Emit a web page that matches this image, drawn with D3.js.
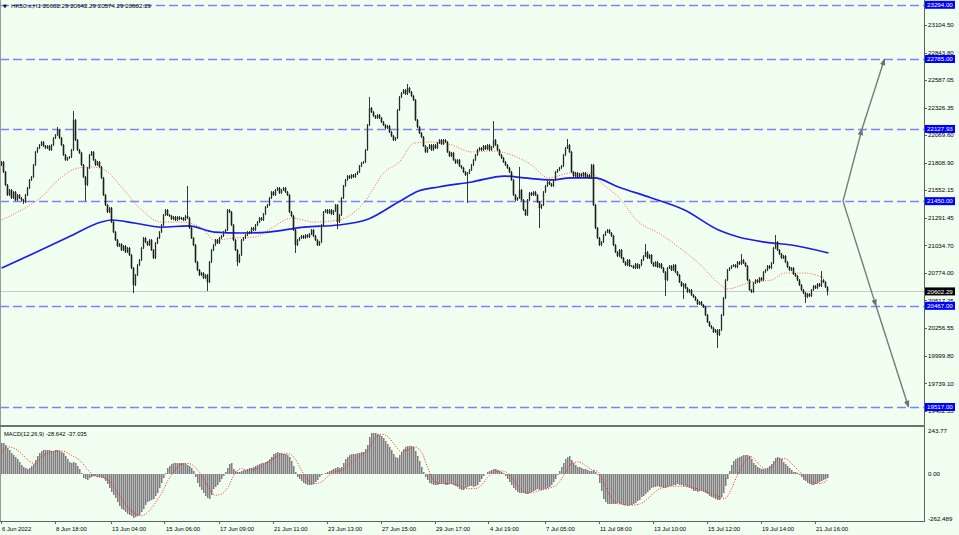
<!DOCTYPE html>
<html><head><meta charset="utf-8">
<script src="https://cdn.jsdelivr.net/npm/d3@7"></script>
<style>
html,body{margin:0;padding:0;background:#F0FFF0;overflow:hidden}
svg text{font-family:"Liberation Sans",Arial,sans-serif;font-size:6.2px;fill:#000}
</style></head><body>
<svg id="c" width="959" height="535"></svg>
<script>
// ---------- DATA ----------
const symbolTitle = "HK50.s,H1  20602.29 20642.29 20574.29 20602.29";
const macdTitle = "MACD(12,26,9) -28.642 -37.035";
const firstOpen = 21790;
const closes = [
21818,21724,21602,21508,21555,21480,21536,21461,21508,21480,
21461,21442,21508,21574,21649,21677,21790,21912,21949,21977,
22005,21968,21949,21968,21931,21977,22043,22071,22118,22043,
21977,21884,21837,21856,21865,21931,22212,22024,21931,21903,
21790,21677,21602,21762,21884,21912,21837,21790,21818,21771,
21668,21508,21414,21348,21386,21254,21160,21085,21029,21047,
20991,21029,20972,21010,20944,20822,20662,20756,20850,20897,
21010,21104,21066,21038,21085,20991,20916,21057,21104,21160,
21226,21320,21367,21320,21311,21282,21301,21273,21301,21282,
21292,21273,21311,21292,21198,21104,21038,20878,20803,20756,
20775,20728,20756,20690,20878,20991,21038,21085,21057,21104,
21123,21160,21179,21367,21348,21226,21085,20991,20878,20944,
21085,21104,21132,21160,21151,21198,21179,21226,21254,21292,
21273,21329,21395,21414,21480,21536,21508,21555,21574,21527,
21555,21574,21536,21508,21348,21311,21179,21038,21085,21104,
21123,21104,21132,21113,21141,21179,21123,21085,21038,21066,
21226,21348,21367,21339,21367,21329,21358,21414,21254,21320,
21480,21593,21649,21686,21668,21696,21677,21705,21724,21780,
21809,21818,21931,22165,22325,22287,22250,22231,22259,22231,
22193,22165,22137,22156,22099,22062,22024,22043,22306,22428,
22466,22494,22456,22513,22475,22438,22400,22212,22146,22090,
22052,21968,21912,21949,21977,21931,21977,21949,21996,22024,
21987,22024,22005,21912,21874,21903,21837,21809,21837,21780,
21762,21724,21696,21715,21743,21790,21837,21884,21931,21949,
21931,21968,21940,21977,21931,21959,22024,21977,21931,21884,
21856,21818,21790,21762,21724,21649,21508,21461,21480,21555,
21461,21367,21320,21461,21527,21508,21536,21508,21442,21386,
21414,21536,21593,21630,21611,21593,21649,21724,21743,21762,
21780,21884,21949,21977,21912,21724,21686,21715,21677,21705,
21686,21715,21677,21696,21668,21790,21414,21198,21104,21038,
21066,21132,21160,21179,21151,21123,21038,20972,20935,20991,
20916,20878,20850,20897,20841,20841,20822,20860,20822,20850,
20897,20935,20972,20916,20944,20869,20841,20878,20831,20860,
20822,20784,20709,20822,20841,20803,20850,20784,20756,20690,
20653,20672,20634,20597,20616,20569,20550,20522,20484,20503,
20475,20456,20381,20315,20278,20259,20221,20240,20193,20240,
20381,20541,20709,20803,20822,20841,20850,20831,20878,20860,
20897,20869,20841,20709,20616,20597,20681,20709,20690,20728,
20709,20784,20803,20841,20822,20869,21010,21066,20991,20953,
20916,20935,20878,20831,20803,20822,20766,20747,20709,20662,
20616,20587,20550,20578,20559,20616,20653,20634,20672,20653,
20709,20690,20644,20602.29];
const spikeHighs = [[28,22137],[36,22287],[93,21583],[184,22419],[203,22541],[246,22193],[259,21762],[283,22024],[322,21038],[370,20944],[387,21123],[410,20784],[413,20642.29]];
const spikeLows = [[11,21433],[42,21461],[66,20597],[103,20616],[118,20850],[147,20972],[168,21198],[233,21442],[269,21207],[332,20569],[341,20541],[358,20080],[402,20503],[413,20574.29]];

const maBlueBars = [0,16.5,33.5,50,55,66.5,80,93.5,106.5,120,133.5,151.5,168.5,183.5,198.5,208.5,218.5,235,251.5,261.5,275,285,296.5,308.5,325,341.5,358.5,368.5,381.5,395,413.5];
const maBlueVals = [20822,20963,21113,21254,21273,21245,21207,21217,21160,21151,21160,21207,21226,21282,21442,21546,21583,21630,21686,21668,21649,21668,21668,21583,21480,21367,21179,21113,21066,21038,20963];
const maRedBars = [0,10,20,30,38.5,45,51.5,60,70,80,90,100,106.5,116.5,126.5,135,145,156.5,168.5,181.5,191.5,198.5,206.5,215,225,235,245,255,265,273.5,285,295,300,308.5,318.5,328.5,338.5,348.5,358.5,362.5,375,385,391.5,401.5,411.5];
const maRedVals = [21273,21367,21489,21677,21762,21771,21743,21583,21367,21254,21254,21198,21085,21104,21113,21198,21292,21254,21273,21442,21724,21809,21996,22005,21977,21912,21921,21884,21790,21668,21715,21715,21621,21489,21254,21151,21019,20869,20681,20625,20690,20709,20775,20775,20728];

const macdMain = [
175,175,165,150,133,120,108,96,85,66,
52,40,33,29,34,44,56,77,99,116,
129,137,138,137,133,131,131,133,135,132,
127,117,101,84,66,61,66,58,45,28,
5,-24,-34,-36,-25,-18,-15,-17,-20,-22,
-25,-28,-43,-62,-85,-105,-122,-144,-166,-186,
-202,-213,-223,-232,-237,-245,-254,-253,-248,-237,
-222,-205,-183,-162,-157,-151,-145,-130,-110,-81,
-53,-24,5,31,45,54,58,60,62,62,
61,58,55,51,42,30,13,-19,-52,-75,
-95,-112,-127,-139,-145,-125,-91,-77,-64,-47,
-30,-13,10,32,53,63,26,15,10,10,
14,22,23,24,30,34,38,43,49,55,
60,63,68,74,83,95,112,119,123,120,
118,115,111,105,93,72,43,10,-21,-32,
-44,-56,-63,-67,-67,-65,-59,-48,-35,-18,
-7,-1,5,11,16,22,28,34,37,32,
40,63,82,98,107,113,115,115,116,119,
122,125,140,162,208,232,235,233,230,224,
215,204,188,170,153,133,110,96,90,106,
124,141,151,158,159,158,155,130,101,72,
40,6,-19,-40,-55,-63,-67,-67,-66,-61,
-59,-62,-65,-67,-63,-63,-66,-72,-79,-88,
-93,-96,-86,-77,-74,-74,-77,-72,-64,-50,
-30,-13,-3,6,15,22,28,24,18,13,
7,1,-14,-32,-49,-67,-84,-97,-107,-110,
-113,-115,-118,-120,-115,-108,-101,-96,-92,-95,
-95,-92,-90,-86,-77,-66,-51,-29,-6,17,
40,63,82,98,100,78,61,48,38,36,
33,29,26,22,17,16,19,10,-8,-54,
-100,-146,-166,-177,-178,-178,-177,-175,-173,-176,
-178,-182,-184,-185,-184,-180,-174,-168,-161,-150,
-138,-127,-116,-104,-93,-84,-78,-75,-73,-76,
-80,-86,-82,-77,-74,-71,-68,-65,-63,-66,
-68,-71,-74,-78,-84,-91,-99,-103,-106,-102,
-102,-106,-113,-121,-130,-138,-143,-149,-154,-151,
-137,-110,-72,-30,15,50,73,84,91,97,
102,107,109,109,100,85,62,48,37,32,
27,24,26,31,42,57,74,87,95,90,
81,69,57,46,30,19,11,7,3,-6,
-18,-35,-46,-56,-63,-68,-69,-63,-57,-51,
-45,-39,-33,-28.642];
const signalBars = [0,3.3,6.7,10,13.3,16.7,20,25,30,35,40,43.3,46.7,50,53.3,56.7,60,63.3,66.7,70,73.3,76.7,80,83.3,86.7,90,93.3,96.7,100,103.3,106.7,110,113.3,116.7,120,123.3,126.7,133.3,140,143.3,146.7,150,153.3,156.7,160,163.3,166.7,170,173.3,180,183.3,186.7,190,193.3,196.7,200,203.3,206.7,210,213.3,216.7,220,223.3,226.7,230,233.3,236.7,240,243.3,246.7,250,253.3,256.7,260,263.3,266.7,270,273.3,278.3,281.7,285,288.3,291.7,295,298.3,301.7,305,308.3,313.3,318.3,323.3,326.7,331.7,336.7,343.3,350,356.7,361.7,365,368.3,371.7,375,378.3,381.7,385,388.3,391.7,395,398.3,401.7,405,408.3,411.7,413];
const signalVals = [115,154,144,115,77,58,96,125,131,106,67,19,-15,-23,-38,-87,-144,-196,-231,-244,-221,-173,-115,-38,19,54,58,38,-10,-77,-125,-119,-77,0,29,19,23,67,110,115,87,19,-38,-58,-48,-15,10,19,48,106,135,202,227,212,163,125,138,154,125,29,-48,-58,-58,-62,-77,-87,-87,-67,-19,10,15,0,-48,-96,-112,-106,-96,-87,-58,0,58,67,48,23,10,-67,-144,-173,-183,-179,-144,-106,-77,-73,-77,-96,-125,-144,-87,0,67,96,58,29,38,81,87,58,19,-19,-48,-58,-48,-37.035];

const levelPrices = [23294, 22785, 22127.93, 21450, 20467, 19517];
const levelLabels = ["23294.00","22785.00","22127.93","21450.00","20467.00","19517.00"];
const priceTicks = ["23104.50","22843.80","22587.05","22326.35","22069.60","21808.90","21552.15","21291.45","21034.70","20774.00","20517.25","20256.55","19999.80","19739.10","19482.35"];
const macdTicks = ["243.77","0.00","-262.489"];
const dateLabels = ["6 Jun 2022","8 Jun 18:00","13 Jun 04:00","15 Jun 06:00","17 Jun 09:00","21 Jun 11:00","23 Jun 13:00","27 Jun 15:00","29 Jun 17:00","4 Jul 19:00","7 Jul 05:00","11 Jul 08:00","13 Jul 10:00","15 Jul 12:00","19 Jul 14:00","21 Jul 16:00"];
const dateBars = [0,27,55,82,109,136,163,190,217,244,272,299,326,353,380,407];
const lastPrice = 20602.29;
// projection arrows: [fromBar, fromPrice, toBar, toPrice]
const arrowSegs = [[420.75,21450,430.25,22127.93],[430.25,22127.93,441.5,22785],[420.75,21450,437.25,20467],[437.25,20467,453.5,19517]];

// ---------- LAYOUT ----------
const W = 959, H = 535, axisX = 924, mainBottom = 426, macdBottom = 521;
const svg = d3.select("#c");
const x = d3.scaleLinear().domain([0, 413]).range([1.5, 827.5]);
const y = d3.scaleLinear().domain([19517, 22785]).range([407, 59]);
const ym = d3.scaleLinear().domain([-262.489, 243.77]).range([519, 431.3]);

svg.append("rect").attr("width", W).attr("height", H).attr("fill", "#F0FFF0");
const defs = svg.append("defs");
defs.append("clipPath").attr("id", "mainClip").append("rect").attr("x", 0).attr("y", 0).attr("width", axisX).attr("height", mainBottom);
defs.append("clipPath").attr("id", "macdClip").append("rect").attr("x", 0).attr("y", mainBottom + 2).attr("width", axisX).attr("height", macdBottom - mainBottom - 2);
defs.append("marker").attr("id", "ah").attr("viewBox", "0 0 10 10").attr("refX", 9).attr("refY", 5)
  .attr("markerWidth", 5).attr("markerHeight", 5).attr("orient", "auto")
  .append("path").attr("d", "M0,1 L10,5 L0,9 Z").attr("fill", "#707070");

const main = svg.append("g").attr("clip-path", "url(#mainClip)");

// level lines
main.selectAll("line.lvl").data(levelPrices).join("line")
  .attr("x1", 0).attr("x2", axisX)
  .attr("y1", d => Math.round(y(d)) + 0.5).attr("y2", d => Math.round(y(d)) + 0.5)
  .attr("stroke", "#8080ff").attr("stroke-width", 1.4).attr("stroke-dasharray", "9,4");

// current price line
main.append("line").attr("x1", 0).attr("x2", axisX)
  .attr("y1", Math.round(y(lastPrice)) + 0.5).attr("y2", Math.round(y(lastPrice)) + 0.5)
  .attr("stroke", "#c8c8c8").attr("stroke-width", 1);

// moving averages
const lineGen = d3.line().curve(d3.curveMonotoneX);
main.append("path").attr("d", lineGen(maRedBars.map((b, i) => [x(b), y(maRedVals[i])])))
  .attr("fill", "none").attr("stroke", "#ff5a3c").attr("stroke-width", 1).attr("stroke-dasharray", "1,1.6");
main.append("path").attr("d", lineGen(maBlueBars.map((b, i) => [x(b), y(maBlueVals[i])])))
  .attr("fill", "none").attr("stroke", "#1c1cf0").attr("stroke-width", 1.7);

// candles
const hiMap = new Map(spikeHighs), loMap = new Map(spikeLows);
const candles = closes.map((c, i) => {
  const o = i === 0 ? firstOpen : closes[i - 1];
  return { i, o, c,
    h: hiMap.has(i) ? hiMap.get(i) : Math.max(o, c),
    l: loMap.has(i) ? loMap.get(i) : Math.min(o, c) };
});
const cg = main.append("g");
cg.selectAll("rect").data(candles).join("rect")
  .attr("x", d => x(d.i) - 0.8).attr("width", 1.6)
  .attr("y", d => y(Math.max(d.o, d.c)))
  .attr("height", d => Math.max(1, Math.abs(y(d.o) - y(d.c))))
  .attr("fill", d => d.c >= d.o ? "#8c8c8c" : "#1a1a1a");
cg.selectAll("line").data(candles).join("line")
  .attr("x1", d => x(d.i)).attr("x2", d => x(d.i))
  .attr("y1", d => y(d.h) - 1).attr("y2", d => y(d.l) + 1)
  .attr("stroke", "#202020").attr("stroke-width", 0.9);

// projection arrows
svg.append("g").selectAll("line").data(arrowSegs).join("line")
  .attr("x1", d => x(d[0])).attr("y1", d => y(d[1]))
  .attr("x2", d => x(d[2])).attr("y2", d => y(d[3]))
  .attr("stroke", "#7a7a7a").attr("stroke-width", 1.4).attr("marker-end", "url(#ah)");

// MACD
const mg = svg.append("g").attr("clip-path", "url(#macdClip)");
const hg = mg.append("g").attr("shape-rendering", "crispEdges");
hg.selectAll("rect").data(macdMain).join("rect")
  .attr("x", (d, i) => x(i) - 1).attr("width", 2)
  .attr("y", d => Math.min(ym(0), ym(d))).attr("height", d => Math.abs(ym(d) - ym(0)))
  .attr("fill", "#b8b8b8");
hg.selectAll("line").data(macdMain).join("line")
  .attr("x1", (d, i) => x(i)).attr("x2", (d, i) => x(i))
  .attr("y1", ym(0)).attr("y2", d => ym(d))
  .attr("stroke", "#7e7e7e").attr("stroke-width", 1);
mg.append("path").attr("d", lineGen(signalBars.map((b, i) => [x(b), ym(signalVals[i])])))
  .attr("fill", "none").attr("stroke", "#ff2020").attr("stroke-width", 1).attr("stroke-dasharray", "1,1.6");

// frames
const fr = svg.append("g").attr("shape-rendering", "crispEdges");
fr.append("line").attr("x1", 0.5).attr("x2", 0.5).attr("y1", 0).attr("y2", macdBottom).attr("stroke", "#9a9a9a");
fr.append("line").attr("x1", axisX + 0.5).attr("x2", axisX + 0.5).attr("y1", 0).attr("y2", macdBottom + 1).attr("stroke", "#606060");
fr.append("rect").attr("x", 0).attr("y", mainBottom - 1).attr("width", axisX + 1).attr("height", 2).attr("fill", "#707070");
fr.append("line").attr("x1", 0).attr("x2", axisX + 1).attr("y1", macdBottom + 0.5).attr("y2", macdBottom + 0.5).attr("stroke", "#606060");

// price axis labels
const ax = svg.append("g");
ax.selectAll("line.pt").data(priceTicks).join("line")
  .attr("x1", axisX).attr("x2", axisX + 3)
  .attr("y1", d => Math.round(y(+d)) + 0.5).attr("y2", d => Math.round(y(+d)) + 0.5)
  .attr("stroke", "#606060");
ax.selectAll("text.pt").data(priceTicks).join("text")
  .attr("x", axisX + 4).attr("y", d => y(+d)).attr("dy", "0.35em").text(d => d);

// level label boxes
const lb = svg.append("g").selectAll("g").data(levelPrices).join("g");
lb.append("rect").attr("x", axisX + 1).attr("y", d => y(d) - 4).attr("width", 30).attr("height", 8).attr("fill", "#0000ff");
lb.append("text").attr("x", axisX + 3).attr("y", d => y(d)).attr("dy", "0.35em")
  .style("fill", "#fff").text((d, i) => levelLabels[i]);

// last price box
svg.append("rect").attr("x", axisX + 1).attr("y", y(lastPrice) - 4).attr("width", 30).attr("height", 8).attr("fill", "#000");
svg.append("text").attr("x", axisX + 3).attr("y", y(lastPrice)).attr("dy", "0.35em").style("fill", "#fff").text(lastPrice.toFixed(2));

// macd axis labels
svg.selectAll("text.mt").data(macdTicks).join("text")
  .attr("x", axisX + 4).attr("y", d => ym(+d)).attr("dy", "0.35em").text(d => d);

// date labels
svg.selectAll("line.dt").data(dateBars).join("line")
  .attr("x1", d => Math.round(x(d)) - 0.5).attr("x2", d => Math.round(x(d)) - 0.5)
  .attr("y1", macdBottom).attr("y2", macdBottom + 3).attr("stroke", "#606060");
svg.selectAll("text.dt").data(dateBars).join("text")
  .attr("x", d => x(d) + 0.5).attr("y", 531).style("font-size", "5.9px").text((d, i) => dateLabels[i]);

// titles
svg.append("text").attr("x", 3).attr("y", 8).style("font-size", "5px").style("font-family", "DejaVu Sans").text("▼");
svg.append("text").attr("x", 11).attr("y", 8).text(symbolTitle);
svg.append("text").attr("x", 4).attr("y", 436).style("font-size", "5.8px").text(macdTitle);
</script>
</body></html>
